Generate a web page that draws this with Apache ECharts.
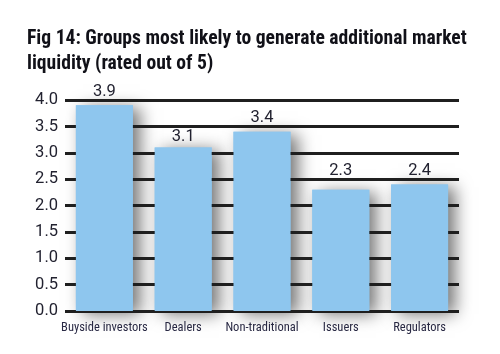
<!DOCTYPE html>
<html><head><meta charset="utf-8">
<script src="https://cdn.jsdelivr.net/npm/echarts@6/dist/echarts.min.js"></script>
<style>html,body{margin:0;padding:0;background:#fff}#c{width:500px;height:354px}</style>
</head><body><div id="c"></div>
<script>
const titleText = 'Fig 14: Groups most likely to generate additional market\nliquidity (rated out of 5)';
const categories = ['Buyside investors', 'Dealers', 'Non-traditional', 'Issuers', 'Regulators'];
const values = [3.9, 3.1, 3.4, 2.3, 2.4];
const yTicks = [0, 0.5, 1, 1.5, 2, 2.5, 3, 3.5, 4];

const FONT = '"Roboto Condensed", Roboto, sans-serif';
const NUMFONT = 'Roboto, sans-serif';
const BAR = '#8ec6ee';
const LABEL_SIZE = 16.5;
const chart = echarts.init(document.getElementById('c'), null, {renderer: 'canvas'});
chart.setOption({
  backgroundColor: '#ffffff',
  animation: false,
  title: {
    text: titleText,
    left: 27, top: 27, padding: 0,
    textStyle: {fontFamily: FONT, fontWeight: 'bold', fontSize: 19.6, lineHeight: 25, color: '#111118'}
  },
  grid: {left: 65, right: 41, top: 100, bottom: 43, containLabel: false},
  xAxis: {
    type: 'category', data: categories,
    axisLine: {show: false}, axisTick: {show: false},
    axisLabel: {fontFamily: FONT, fontSize: 12.5, color: '#2a2a45', margin: 10, interval: 0}
  },
  yAxis: {
    type: 'value', min: yTicks[0], max: yTicks[yTicks.length - 1], interval: 0.5, z: 2,
    axisLine: {show: false}, axisTick: {show: false},
    axisLabel: {fontFamily: NUMFONT, fontSize: 16.5, color: '#222230', margin: 7, formatter: v => v.toFixed(1)},
    splitLine: {show: true, lineStyle: {color: '#1f1f1f', width: 3}}
  },
  series: [{
    // shadow layer, drawn below the grid lines
    type: 'bar', data: values, barWidth: 57, z: 1, silent: true,
    itemStyle: {color: BAR, shadowColor: 'rgba(0,0,0,0.55)', shadowBlur: 16, shadowOffsetX: 7, shadowOffsetY: 3}
  }, {
    type: 'bar', data: values, barWidth: 57, barGap: '-100%', z: 3,
    itemStyle: {color: BAR},
    label: {show: true, position: 'top', distance: 5, fontFamily: NUMFONT, fontSize: LABEL_SIZE, color: '#222230', formatter: p => p.value.toFixed(1)}
  }]
});

// Place each value label in the first clear space above its bar so it never sits on a grid line
const linePx = yTicks.map(t => chart.convertToPixel({yAxisIndex: 0}, t));
const capH = 0.711 * LABEL_SIZE, baseShift = 2.6, clear = 2.5;
const labelled = values.map(v => {
  const top = chart.convertToPixel({yAxisIndex: 0}, v);
  let gap = 5;
  const hits = g => linePx.some(L => (top - g) > L - clear && (top - g - capH) < L + clear);
  while (hits(gap) && gap < 40) gap += 0.25;
  return {value: v, label: {distance: gap - baseShift}};
});
chart.setOption({series: [{}, {data: labelled}]});
</script></body></html>
